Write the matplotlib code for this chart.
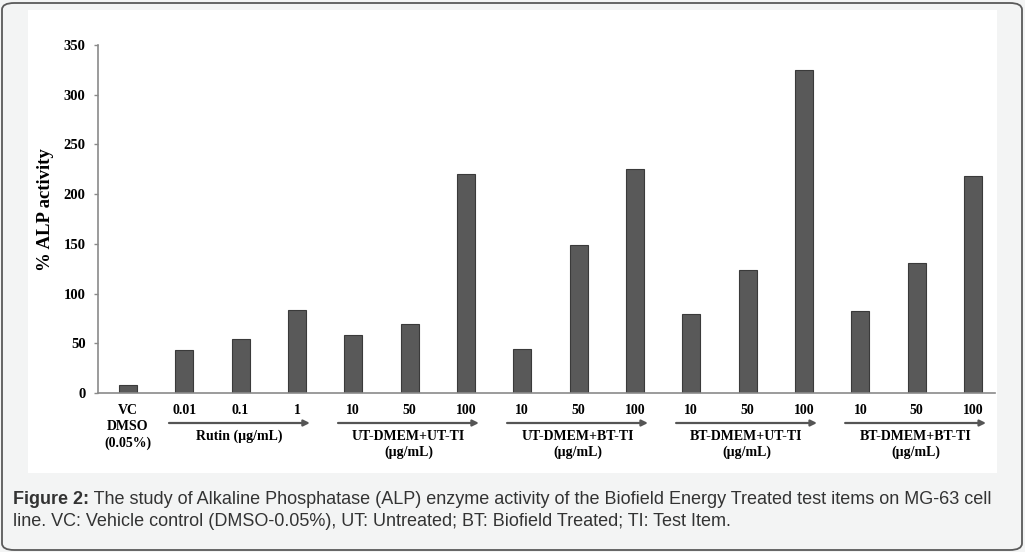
import matplotlib
matplotlib.use("Agg")
import matplotlib.pyplot as plt
from matplotlib import transforms
from matplotlib.patches import Rectangle, FancyBboxPatch

# bar values (% ALP activity)
vc_value = [8]
rutin_values = [43.5, 54, 83]
ut_ut_values = [58.5, 69, 220]
ut_bt_values = [44.5, 149, 225.5]
bt_ut_values = [79.5, 124, 325]
bt_bt_values = [82.5, 130.5, 218]

dose_labels = ["0.01", "0.1", "1", "10", "50", "100", "10", "50", "100",
               "10", "50", "100", "10", "50", "100"]
group_names = ["Rutin (\u00b5g/mL)", "UT-DMEM+UT-TI\n(\u00b5g/mL)",
               "UT-DMEM+BT-TI\n(\u00b5g/mL)", "BT-DMEM+UT-TI\n(\u00b5g/mL)",
               "BT-DMEM+BT-TI\n(\u00b5g/mL)"]

values = vc_value + rutin_values + ut_ut_values + ut_bt_values + bt_ut_values + bt_bt_values
positions = list(range(len(values)))

W, H = 1025, 552
fig = plt.figure(figsize=(W / 100, H / 100), dpi=100)
fig.patch.set_facecolor("#f3f4f4")

# outer rounded frame and white chart panel
frame = FancyBboxPatch((2 / W, 2 / H), (W - 5) / W, (H - 5) / H,
                       boxstyle="round,pad=0,rounding_size=0.012",
                       transform=fig.transFigure, facecolor="none",
                       edgecolor="#5a5a5a", linewidth=1.3)
fig.add_artist(frame)
fig.add_artist(Rectangle((28 / W, 1 - 473 / H), (997 - 28) / W, (473 - 10) / H,
                         transform=fig.transFigure, facecolor="white",
                         edgecolor="none", zorder=0))

ax = fig.add_axes([98 / W, 1 - 393 / H, (995 - 98) / W, (393 - 45) / H])
ax.set_facecolor("none")
ax.bar(positions, values, width=0.32, color="#595959", edgecolor="#3a3a3a",
       linewidth=0.8)

ax.set_xlim(-0.53, 15.39)
ax.set_ylim(0, 350)
ax.set_yticks(range(0, 351, 50))
ax.set_xticks([])
for s in ["top", "right"]:
    ax.spines[s].set_visible(False)
for s in ["left", "bottom"]:
    ax.spines[s].set_color("#8a8a8a")
    ax.spines[s].set_linewidth(1.2)
ax.tick_params(axis="y", direction="out", length=3, width=1, color="#8a8a8a",
               pad=6)
for lbl in ax.get_yticklabels():
    lbl.set_fontfamily("Liberation Serif")
    lbl.set_fontweight("bold")
    lbl.set_fontsize(10.5)

serif = dict(family="Liberation Serif", weight="bold", color="black")

fig.text(45 / W, 1 - 210 / H, "% ALP activity", rotation=90, ha="center",
         va="center", fontsize=13.5, **serif)

# x and y in (data, figure) coordinates for the labels under the axis
tr = transforms.blended_transform_factory(ax.transData, fig.transFigure)

ax.text(0, 1 - 411 / H, "VC", transform=tr, ha="center", va="center",
        fontsize=10, **serif)
ax.text(0, 1 - 427 / H, "DMSO", transform=tr, ha="center", va="center",
        fontsize=10, **serif)
ax.text(0, 1 - 443 / H, "(0.05%)", transform=tr, ha="center", va="center",
        fontsize=10, **serif)

for pos, lab in zip(positions[1:], dose_labels):
    ax.text(pos, 1 - 411 / H, lab, transform=tr, ha="center", va="center",
            fontsize=10, **serif)

for g, name in enumerate(group_names):
    first = 1 + 3 * g
    x0, x1 = first - 0.27, first + 2 + 0.23
    ax.annotate("", xy=(x1, 1 - 423 / H), xytext=(x0, 1 - 423 / H),
                xycoords=tr, textcoords=tr, annotation_clip=False,
                arrowprops=dict(arrowstyle="-|>", color="#555555", lw=1.6,
                                mutation_scale=9, shrinkA=0, shrinkB=0))
    ax.text((x0 + x1) / 2, 1 - 430 / H, name, transform=tr, ha="center",
            va="top", fontsize=10, linespacing=1.25, **serif)

# caption
cap_font = "Liberation Sans"
cap_size = 13
t1 = fig.text(13 / W, 1 - 499 / H, "Figure 2:", ha="left", va="center",
              fontsize=cap_size, family=cap_font, weight="bold", color="#333333")
ax.annotate(" The study of Alkaline Phosphatase (ALP) enzyme activity of the "
            "Biofield Energy Treated test items on MG-63 cell",
            xy=(1, 0.5), xycoords=t1, ha="left", va="center", fontsize=cap_size,
            family=cap_font, color="#333333", annotation_clip=False)
fig.text(13 / W, 1 - 521 / H,
         "line. VC: Vehicle control (DMSO-0.05%), UT: Untreated; BT: Biofield "
         "Treated; TI: Test Item.",
         ha="left", va="center", fontsize=cap_size, family=cap_font,
         color="#333333")

fig.savefig("out.png", dpi=100, facecolor=fig.get_facecolor())
